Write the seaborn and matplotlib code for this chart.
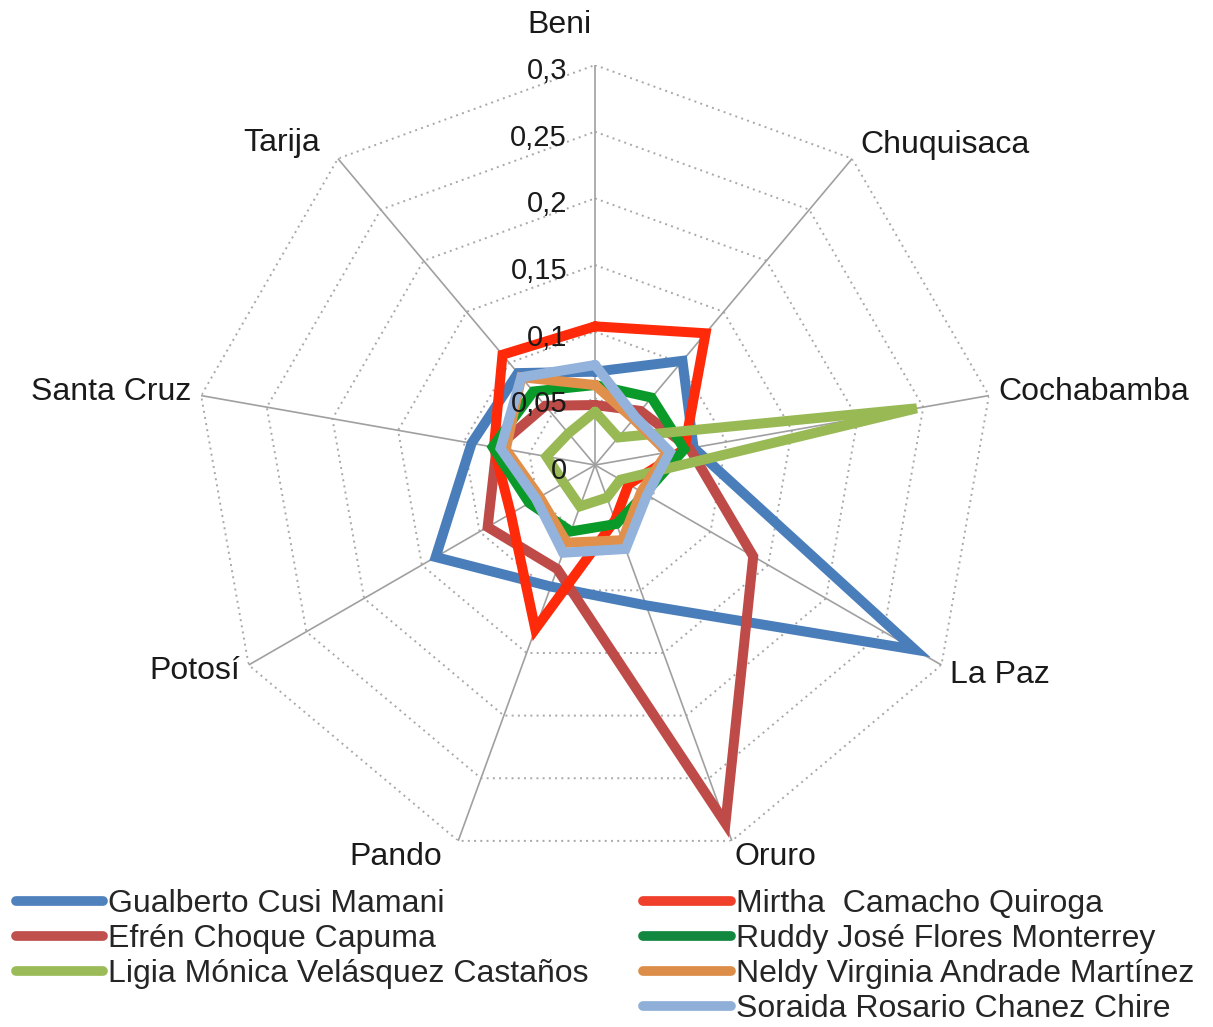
import numpy as np
import pandas as pd
import seaborn as sns
import matplotlib.pyplot as plt
from matplotlib.lines import Line2D

# departments, clockwise from the top
departments = ["Beni", "Chuquisaca", "Cochabamba", "La Paz", "Oruro",
               "Pando", "Potosí", "Santa Cruz", "Tarija"]

candidates = ["Gualberto Cusi Mamani", "Efrén Choque Capuma",
              "Mirtha  Camacho Quiroga", "Ruddy José Flores Monterrey",
              "Ligia Mónica Velásquez Castaños", "Neldy Virginia Andrade Martínez",
              "Soraida Rosario Chanez Chire"]

gualberto = [0.070, 0.102, 0.075, 0.277, 0.112, 0.097, 0.138, 0.094, 0.090]
efren     = [0.045, 0.053, 0.072, 0.137, 0.286, 0.083, 0.093, 0.075, 0.058]
mirtha    = [0.104, 0.129, 0.068, 0.029, 0.044, 0.131, 0.073, 0.077, 0.108]
ruddy     = [0.060, 0.066, 0.068, 0.043, 0.047, 0.053, 0.057, 0.078, 0.072]
ligia     = [0.040, 0.027, 0.245, 0.022, 0.026, 0.033, 0.027, 0.037, 0.031]
neldy     = [0.060, 0.045, 0.055, 0.040, 0.060, 0.062, 0.048, 0.068, 0.086]
soraida   = [0.075, 0.047, 0.057, 0.045, 0.067, 0.070, 0.051, 0.072, 0.086]

series = [gualberto, efren, mirtha, ruddy, ligia, neldy, soraida]
colors = ["#4a7ebb", "#be4b48", "#ff2a0a", "#0a9a2a", "#98b954", "#e0904a", "#94b3dc"]
legend_colors = ["#4f81bd", "#c0504d", "#f0402b", "#12873f", "#9bbb59", "#dc8d48", "#8fafd8"]

rticks = [0, 0.05, 0.1, 0.15, 0.2, 0.25, 0.3]
rtick_labels = ["0", "0,05", "0,1", "0,15", "0,2", "0,25", "0,3"]

sns.set_theme(style="white")
plt.rcParams["font.family"] = ["Liberation Sans", "DejaVu Sans"]

n = len(departments)
theta = np.deg2rad(np.arange(n) * 360.0 / n)
theta_closed = np.append(theta, 2 * np.pi)

rows = []
for name, vals in zip(candidates, series):
    for t, v in zip(theta_closed, vals + vals[:1]):
        rows.append({"candidate": name, "theta": t, "value": v})
df = pd.DataFrame(rows)

fig = plt.figure(figsize=(12.13, 10.27), dpi=100)
ax = fig.add_axes([0.1608, 0.1577, 0.6595, 0.779], projection="polar")
ax.set_theta_zero_location("N")
ax.set_theta_direction(-1)
ax.set_ylim(0, 0.3)
ax.grid(False)
ax.set_xticks([])
ax.set_yticks([])
ax.spines["polar"].set_visible(False)
ax.set_facecolor("none")

# nonagon grid rings (dotted) and spokes
for r in rticks[1:]:
    ax.plot(theta_closed, [r] * len(theta_closed), color="#a8a8a8",
            lw=1.4, ls=(0, (1, 2.2)), zorder=1)
for t in theta:
    ax.plot([t, t], [0, 0.3], color="#a0a0a0", lw=1.2, zorder=1)

sns.lineplot(data=df, x="theta", y="value", hue="candidate", hue_order=candidates,
             palette=colors, sort=False, estimator=None, linewidth=7.2,
             solid_joinstyle="miter", legend=False, ax=ax, zorder=3)
ax.set_xlabel("")
ax.set_ylabel("")

# radial tick labels along the Beni axis
for r, lab in zip(rticks, rtick_labels):
    ax.annotate(lab, xy=(0, r), xytext=(-28, -6), textcoords="offset pixels",
                ha="right", va="center", fontsize=21, color="#1a1a1a", zorder=4)

# department labels
label_pos = {
    "Beni": ((-36, 40), "center"),
    "Chuquisaca": ((8, 14), "left"),
    "Cochabamba": ((9, 4), "left"),
    "La Paz": ((9, -10), "left"),
    "Oruro": ((3, -16), "left"),
    "Pando": ((-16, -16), "right"),
    "Potosí": ((-9, -6), "right"),
    "Santa Cruz": ((-10, 4), "right"),
    "Tarija": ((-18, 16), "right"),
}
for t, dep in zip(theta, departments):
    off, ha = label_pos[dep]
    ax.annotate(dep, xy=(t, 0.3), xytext=off, textcoords="offset pixels",
                ha=ha, va="center", fontsize=23, color="#1a1a1a")

# legend: 3 entries in the first column, 4 in the second
order = [0, 1, 4, None, 2, 3, 5, 6]
handles, labels = [], []
for i in order:
    if i is None:
        handles.append(Line2D([], [], color="none"))
        labels.append("")
    else:
        handles.append(Line2D([], [], color=legend_colors[i], lw=7,
                              solid_capstyle="round"))
        labels.append(candidates[i])
fig.legend(handles, labels, ncol=2, loc="upper left", bbox_to_anchor=(0.0128, 0.1345),
           frameon=False, fontsize=23, handlelength=2.75, handletextpad=0.14,
           columnspacing=1.72, labelspacing=0.16, borderpad=0, borderaxespad=0)

fig.savefig("out.png", dpi=100, facecolor="white")
